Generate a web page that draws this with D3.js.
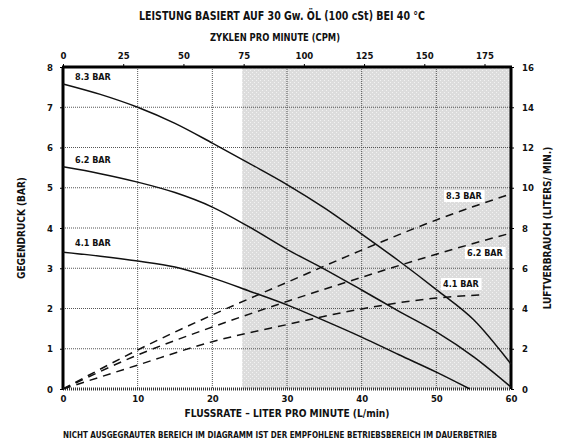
<!DOCTYPE html>
<html><head><meta charset="utf-8">
<script src="https://cdn.jsdelivr.net/npm/d3@7/dist/d3.min.js"></script>
<style>
body{margin:0;background:#fff;}
svg text{font-family:'Liberation Sans Narrow','DejaVu Sans Condensed',sans-serif;font-weight:bold;fill:#111;}
</style></head><body>
<svg id="c" width="564" height="445"></svg>
<script>
// ---- data ----
const flowTicks = [0,10,20,30,40,50,60];
const cpmTicks = [0,25,50,75,100,125,150,175];
const pressureTicks = [0,1,2,3,4,5,6,7,8];
const airTicks = [0,2,4,6,8,10,12,14,16];
const greyStart = 24; // L/min, start of grey region
const seriesNames = ["8.3 BAR","6.2 BAR","4.1 BAR"];
// back pressure (bar) vs flow (L/min)
const pressure83 = [[0,7.58],[5,7.32],[10,7.0],[15,6.6],[20,6.11],[25,5.6],[30,5.08],[35,4.5],[40,3.85],[45,3.18],[50,2.47],[55,1.72],[60,0.62]];
const pressure62 = [[0,5.52],[5,5.35],[10,5.14],[15,4.88],[20,4.52],[25,4.02],[30,3.47],[35,2.98],[40,2.46],[45,1.93],[50,1.42],[55,0.8],[60,0.05]];
const pressure41 = [[0,3.4],[5,3.3],[10,3.18],[15,3.03],[20,2.76],[25,2.43],[30,2.09],[35,1.70],[40,1.29],[45,0.85],[50,0.42],[54.5,0]];
// air consumption (L/min) vs flow (L/min)
const air83 = [[0,0],[10,1.94],[20,3.68],[30,5.3],[40,6.9],[50,8.4],[60,9.7]];
const air62 = [[0,0],[10,1.69],[20,3.08],[30,4.35],[40,5.55],[50,6.7],[60,7.75]];
const air41 = [[0,0],[10,1.19],[20,2.35],[30,3.2],[40,3.98],[50,4.52],[55.8,4.67]];

const svg = d3.select("#c");
const L=63,R=511,T=67,B=389;
const x = d3.scaleLinear().domain([0,60]).range([L,R]);
const xTop = d3.scaleLinear().domain([0,186]).range([L,R]);
const y = d3.scaleLinear().domain([0,8]).range([B,T]);
const y2 = d3.scaleLinear().domain([0,16]).range([B,T]);

// grey region with dotted pattern
const defs = svg.append("defs");
const pat = defs.append("pattern").attr("id","dots").attr("width",4).attr("height",4).attr("patternUnits","userSpaceOnUse");
pat.append("rect").attr("width",4).attr("height",4).attr("fill","#dcdcdc");
pat.append("rect").attr("x",0).attr("y",0).attr("width",1).attr("height",1).attr("fill","#f2f2f2");
pat.append("rect").attr("x",2).attr("y",2).attr("width",1).attr("height",1).attr("fill","#f2f2f2");
svg.append("rect").attr("x",x(greyStart)).attr("y",T).attr("width",x(60)-x(greyStart)).attr("height",B-T).attr("fill","url(#dots)");

// grid
svg.append("g").selectAll("line").data(pressureTicks.slice(1,-1)).join("line")
  .attr("x1",L).attr("x2",R).attr("y1",d=>y(d)).attr("y2",d=>y(d))
  .attr("stroke","#555").attr("stroke-width",1).attr("stroke-dasharray","1,1");
svg.append("g").selectAll("line").data(flowTicks.slice(1,-1)).join("line")
  .attr("x1",d=>x(d)).attr("x2",d=>x(d)).attr("y1",T).attr("y2",B)
  .attr("stroke","#555").attr("stroke-width",1).attr("stroke-dasharray","1,1");

// axes
const fs = "9.5px";
const gB = svg.append("g").attr("transform",`translate(0,${B})`).call(d3.axisBottom(x).tickValues(flowTicks).tickSize(0).tickPadding(6));
const gT = svg.append("g").attr("transform",`translate(0,${T})`).call(d3.axisTop(xTop).tickValues(cpmTicks).tickSize(3).tickPadding(5));
const gL = svg.append("g").attr("transform",`translate(${L},0)`).call(d3.axisLeft(y).tickValues(pressureTicks).tickSize(3).tickPadding(7));
const gR = svg.append("g").attr("transform",`translate(${R},0)`).call(d3.axisRight(y2).tickValues(airTicks).tickSize(3).tickPadding(8));
[gB,gT,gL,gR].forEach(g=>{g.select(".domain").remove(); g.selectAll("text").attr("font-size",fs).style("font-family","'DejaVu Sans Condensed',sans-serif").style("font-weight","bold");});

// frame
svg.append("line").attr("x1",L-1).attr("x2",R+1).attr("y1",T).attr("y2",T).attr("stroke","#000").attr("stroke-width",3);
svg.append("line").attr("x1",L).attr("x2",L).attr("y1",T).attr("y2",B).attr("stroke","#000").attr("stroke-width",3);
svg.append("line").attr("x1",R).attr("x2",R).attr("y1",T).attr("y2",B).attr("stroke","#000").attr("stroke-width",3);
svg.append("line").attr("x1",L).attr("x2",R).attr("y1",B).attr("y2",B).attr("stroke","#333").attr("stroke-width",3).attr("stroke-dasharray","1,1");

// curves
const lineP = d3.line().x(d=>x(d[0])).y(d=>y(d[1])).curve(d3.curveMonotoneX);
const lineA = d3.line().x(d=>x(d[0])).y(d=>y2(d[1])).curve(d3.curveMonotoneX);
[pressure83,pressure62,pressure41].forEach(s=>{
  svg.append("path").attr("d",lineP(s)).attr("fill","none").attr("stroke","#111").attr("stroke-width",1.5);
});
[air83,air62,air41].forEach(s=>{
  svg.append("path").attr("d",lineA(s)).attr("fill","none").attr("stroke","#111").attr("stroke-width",1.5).attr("stroke-dasharray","8,6");
});

// series labels
const lab = (t,xx,yy,bg)=>{
  const g = svg.append("g");
  const tx = g.append("text").attr("x",xx).attr("y",yy).attr("font-size","9px").text(t);
  if(bg){const bb=tx.node().getBBox(); g.insert("rect","text").attr("x",bb.x-2).attr("y",bb.y-1).attr("width",bb.width+4).attr("height",bb.height+2).attr("fill","#fff");}
};
lab(seriesNames[0],75,80,false);
lab(seriesNames[1],75,163,false);
lab(seriesNames[2],75,246,false);
lab(seriesNames[0],446,199,true);
lab(seriesNames[1],467,256,true);
lab(seriesNames[2],443,287,true);

// titles
svg.append("text").attr("x",282).attr("y",20).attr("text-anchor","middle").attr("font-size","13px")
  .attr("textLength",286).attr("lengthAdjust","spacingAndGlyphs").text("LEISTUNG BASIERT AUF 30 Gw. ÖL (100 cSt) BEI 40 °C");
svg.append("text").attr("x",275).attr("y",41).attr("text-anchor","middle").attr("font-size","10px")
  .attr("textLength",130).attr("lengthAdjust","spacingAndGlyphs").text("ZYKLEN PRO MINUTE (CPM)");
svg.append("text").attr("x",287).attr("y",417).attr("text-anchor","middle").attr("font-size","10px")
  .attr("textLength",205).attr("lengthAdjust","spacingAndGlyphs").text("FLUSSRATE – LITER PRO MINUTE (L/min)");
svg.append("text").attr("x",280).attr("y",438).attr("text-anchor","middle").attr("font-size","9px")
  .attr("textLength",434).attr("lengthAdjust","spacingAndGlyphs").text("NICHT AUSGEGRAUTER BEREICH IM DIAGRAMM IST DER EMPFOHLENE BETRIEBSBEREICH IM DAUERBETRIEB");
svg.append("text").attr("transform","translate(25,228) rotate(-90)").attr("text-anchor","middle").attr("font-size","10px")
  .text("GEGENDRUCK (BAR)");
svg.append("text").attr("transform","translate(551,228) rotate(-90)").attr("text-anchor","middle").attr("font-size","10px")
  .text("LUFTVERBRAUCH (LITERS/ MIN.)");
</script></body></html>
